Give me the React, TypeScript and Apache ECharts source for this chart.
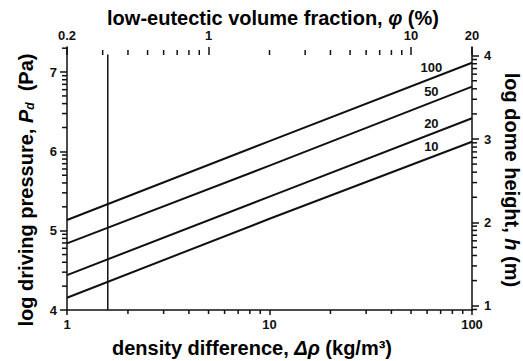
import React, { useEffect, useRef } from "react";
import * as echarts from "echarts";

// density difference (kg/m^3)
const deltaRho = [1, 10, 100];
// log driving pressure (Pa) for each dome-height curve
const curve100 = [5.135, 6.13, 7.118];
const curve50 = [4.84, 5.82, 6.816];
const curve20 = [4.44, 5.43, 6.417];
const curve10 = [4.155, 5.15, 6.122];
const curveNames = ["100", "50", "20", "10"];
const curves = [curve100, curve50, curve20, curve10];
// vertical reference line
const refLineX = [1.59, 1.59];
const refLineY = [4, 7.22];

// axis ranges
const X_MIN = 1, X_MAX = 100;
const PHI_MIN = 0.2, PHI_MAX = 20;
const P_MIN = 4, P_MAX = 7.316;
const H_MIN = 0.948, H_MAX = 4.104;

// tick values
const bottomMajor = [1, 10, 100];
const bottomMinor = [2, 3, 4, 5, 6, 7, 8, 9, 20, 30, 40, 50, 60, 70, 80, 90];
const topMajor = [0.2, 1, 10, 20];
const topMinor = [0.3, 0.4, 0.5, 0.6, 0.7, 0.8, 0.9, 2, 3, 4, 5, 6, 7, 8, 9];
const leftMajor = [4, 5, 6, 7];
const rightMajor = [1, 2, 3, 4];
const logMinor = (decades: number[]) => {
  const out: number[] = [];
  decades.forEach((d) => {
    for (let k = 2; k <= 9; k++) out.push(d + Math.log10(k));
  });
  return out;
};
const leftMinor = logMinor([4, 5, 6, 7]).filter((v) => v < P_MAX);
const rightMinor = logMinor([0, 1, 2, 3, 4]).filter((v) => v > H_MIN && v < H_MAX);

const LABEL_X = 63;

const FONT = "'Liberation Sans', Arial, Helvetica, sans-serif";
const tickLabel = { fontFamily: FONT, fontWeight: "bold" as const, fontSize: 13, color: "#111" };

function interpAt(xs: number[], ys: number[], x: number) {
  const lx = Math.log10(x);
  for (let i = 0; i < xs.length - 1; i++) {
    const a = Math.log10(xs[i]);
    const b = Math.log10(xs[i + 1]);
    if (lx >= a && lx <= b) return ys[i] + ((lx - a) / (b - a)) * (ys[i + 1] - ys[i]);
  }
  return ys[ys.length - 1];
}

export default function App() {
  const ref = useRef<HTMLDivElement>(null);
  useEffect(() => {
    if (!ref.current) return;
    const chart = echarts.init(ref.current, null, { renderer: "svg" });
    const axisLine = { show: true, lineStyle: { color: "#111", width: 1.5 } };
    const rich = {
      a: { fontFamily: FONT, fontWeight: "bold", fontSize: 20, color: "#111" },
      i: { fontFamily: FONT, fontWeight: "bold", fontStyle: "italic", fontSize: 20, color: "#111" },
      s: { fontFamily: FONT, fontWeight: "bold", fontStyle: "italic", fontSize: 12, color: "#111", verticalAlign: "bottom", padding: [8, 0, 0, 0] },
    };
    const title = (text: string, x: number, y: number, rotation = 0) => ({
      type: "text",
      x,
      y,
      rotation,
      style: { text, rich, align: "center", verticalAlign: "middle" },
    });
    chart.setOption({
      animation: false,
      grid: { left: 67, right: 51, top: 47, bottom: 51 },
      xAxis: [
        {
          type: "log", logBase: 10, min: X_MIN, max: X_MAX, position: "bottom",
          axisLine, splitLine: { show: false }, minorTick: { show: false },
          axisTick: { show: true, customValues: bottomMajor, length: 5, lineStyle: { color: "#111", width: 1.5 } },
          axisLabel: { ...tickLabel, customValues: bottomMajor, margin: 8 },
        },
        {
          type: "log", logBase: 10, min: PHI_MIN, max: PHI_MAX, position: "top", offset: -8,
          axisLine: { show: false }, splitLine: { show: false },
          axisTick: { show: true, customValues: topMajor, length: 8, lineStyle: { color: "#111", width: 1.5 } },
          axisLabel: { ...tickLabel, customValues: topMajor, margin: 13 },
        },
      ],
      yAxis: [
        {
          type: "value", min: P_MIN, max: P_MAX, position: "left",
          axisLine, splitLine: { show: false },
          axisTick: { show: true, customValues: leftMajor, length: 7, lineStyle: { color: "#111", width: 1.5 } },
          axisLabel: { ...tickLabel, customValues: leftMajor, margin: 10 },
        },
        {
          type: "value", min: H_MIN, max: H_MAX, position: "right",
          axisLine, splitLine: { show: false },
          axisTick: { show: true, customValues: rightMajor, length: 7, lineStyle: { color: "#111", width: 1.5 } },
          axisLabel: { ...tickLabel, customValues: rightMajor, margin: 12 },
        },
      ],
      series: [
        ...curves.map((c, idx) => ({
          name: curveNames[idx],
          type: "line",
          xAxisIndex: 0,
          yAxisIndex: 0,
          showSymbol: false,
          lineStyle: { color: "#111", width: 2 },
          data: deltaRho.map((x, i) => [x, c[i]]),
          markPoint: {
            symbol: "circle",
            symbolSize: 0,
            label: {
              show: true, position: "inside", offset: [0, -11],
              formatter: curveNames[idx], ...tickLabel,
            },
            data: [{ coord: [LABEL_X, interpAt(deltaRho, c, LABEL_X)] }],
          },
        })),
        {
          name: "ref",
          type: "line",
          xAxisIndex: 0,
          yAxisIndex: 0,
          showSymbol: false,
          lineStyle: { color: "#111", width: 1.5 },
          data: refLineX.map((x, i) => [x, refLineY[i]]),
        },
      ],
    });

    // minor ticks, positioned through the axes' own scales
    const tickGraphics: any[] = [];
    const addTick = (x: number, y: number, w: number, h: number) =>
      tickGraphics.push({
        type: "rect",
        silent: true,
        z: 100,
        shape: { x, y, width: w, height: h },
        style: { fill: "#111" },
      });
    const bottomFinder = { xAxisIndex: 0, yAxisIndex: 0 };
    const topFinder = { xAxisIndex: 1, yAxisIndex: 0 };
    const rightFinder = { xAxisIndex: 0, yAxisIndex: 1 };
    bottomMinor.forEach((v) => {
      const p = chart.convertToPixel(bottomFinder, [v, P_MIN]) as number[];
      addTick(p[0] - 0.75, p[1], 1.5, 4);
    });
    topMinor.forEach((v) => {
      const p = chart.convertToPixel(topFinder, [v, P_MAX]) as number[];
      addTick(p[0] - 0.75, p[1] + 3, 1.5, 5);
    });
    leftMinor.forEach((v) => {
      const p = chart.convertToPixel(bottomFinder, [X_MIN, v]) as number[];
      addTick(p[0] - 5, p[1] - 0.75, 5, 1.5);
    });
    rightMinor.forEach((v) => {
      const p = chart.convertToPixel(rightFinder, [X_MAX, v]) as number[];
      addTick(p[0], p[1] - 0.75, 5, 1.5);
    });

    chart.setOption({
      graphic: [
        title("{a|low-eutectic volume fraction, }{i|φ}{a| (%)}", 273, 18),
        title("{a|density difference, }{i|Δρ}{a| (kg/m³)}", 252, 348),
        title("{a|log driving pressure, }{i|P}{s|d}{a|  (Pa)}", 26, 190, Math.PI / 2),
        title("{a|log dome height, }{i|h}{a| (m)}", 512, 180, -Math.PI / 2),
        ...tickGraphics,
      ],
    });
    return () => chart.dispose();
  }, []);
  return <div ref={ref} style={{ position: "fixed", left: 0, top: 0, width: 523, height: 361, background: "#fff" }} />;
}
